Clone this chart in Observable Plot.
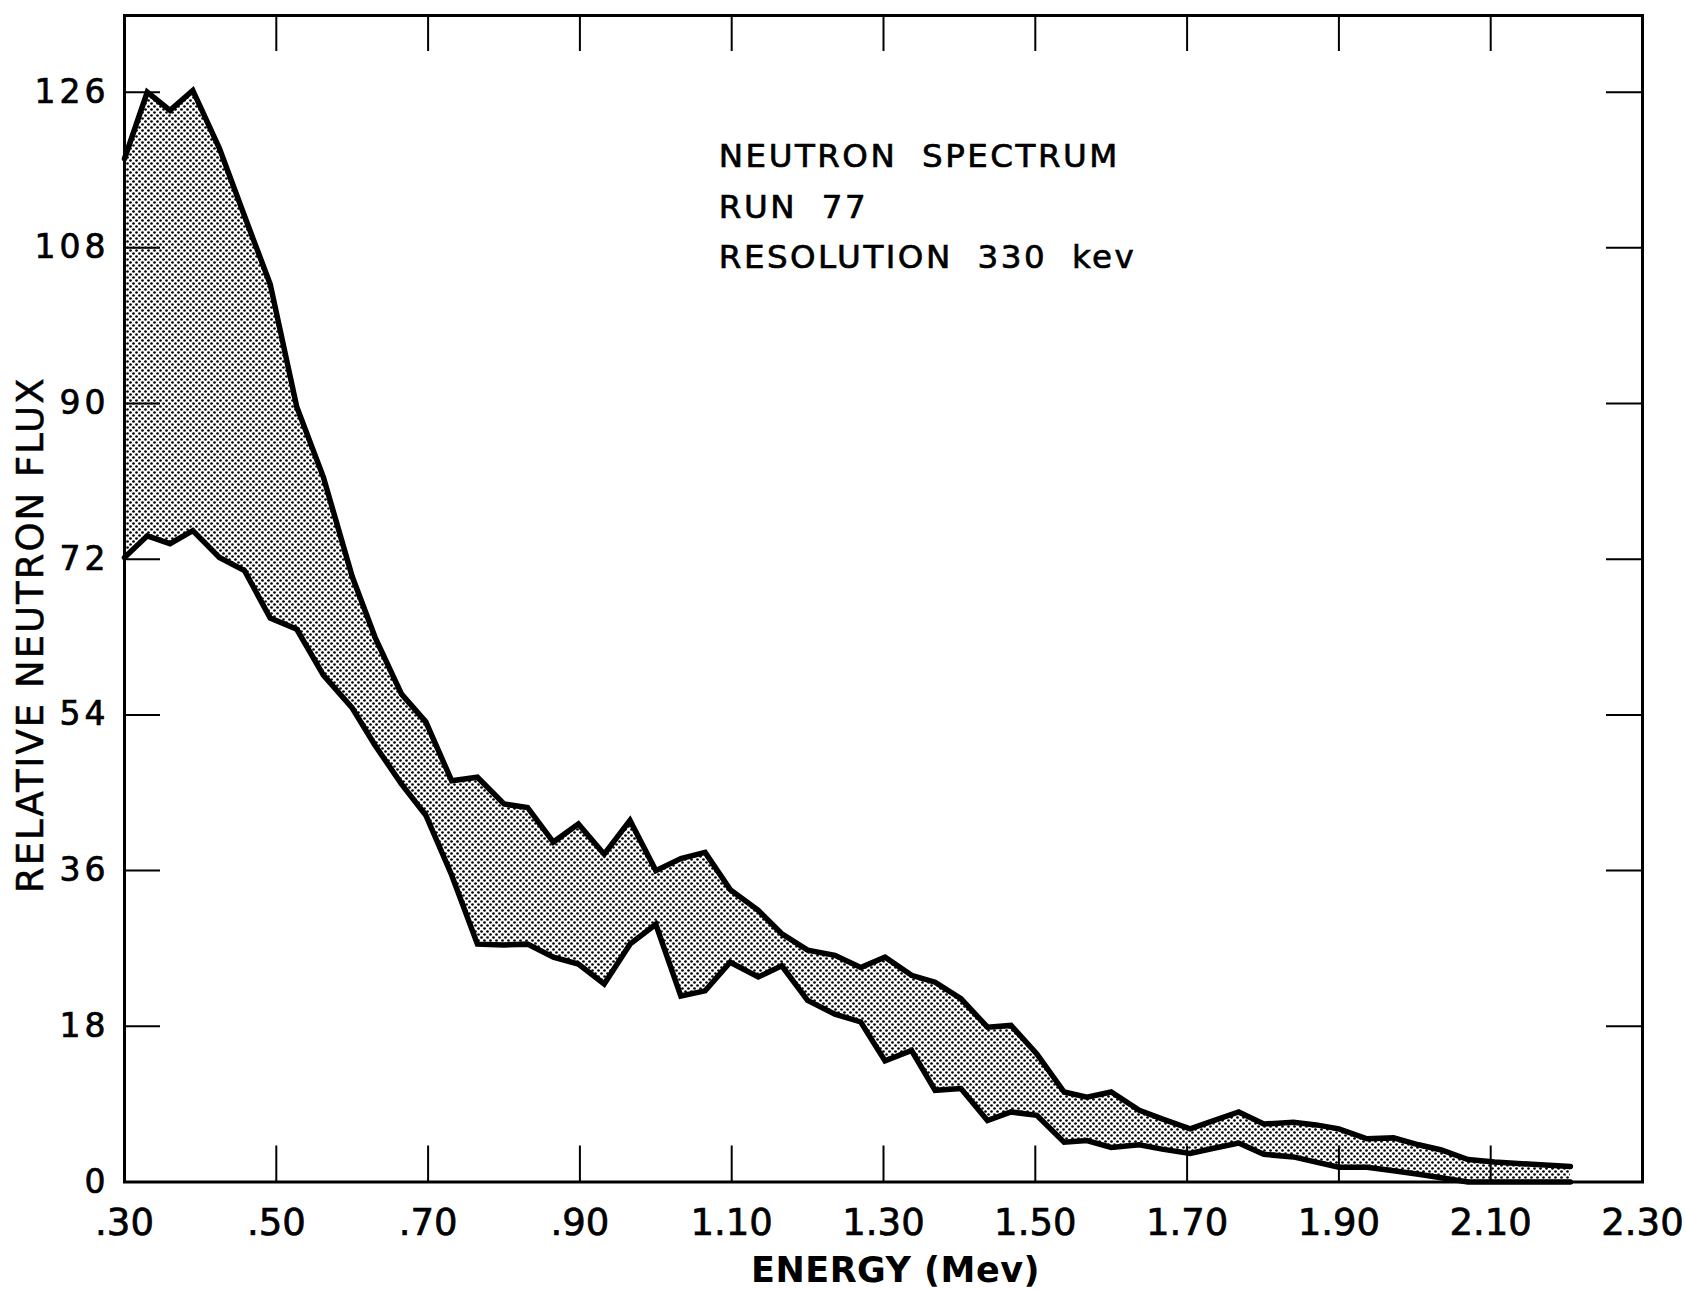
<!DOCTYPE html>
<html><head><meta charset="utf-8">
<script src="https://cdn.jsdelivr.net/npm/d3@7"></script>
<script src="https://cdn.jsdelivr.net/npm/@observablehq/plot@0.6"></script>
<style>
html,body{margin:0;padding:0;background:#fff;}
#chart svg{display:block;}
g[aria-label="y-axis tick label"] text{letter-spacing:4px;stroke:#000;stroke-width:0.7px;}
g[aria-label="x-axis tick label"] text{stroke:#000;stroke-width:0.7px;}
g.notes text{letter-spacing:2.5px;word-spacing:12px;stroke:#000;stroke-width:0.7px;}
g.ytitle text{letter-spacing:2px;stroke:#000;stroke-width:0.5px;}
g.xtitle text{letter-spacing:0.5px;}
</style></head><body><div id="chart"></div>
<script>
// Energy (MeV) of each vertex of the band
const energy = [0.300,0.330,0.360,0.390,0.425,0.458,0.492,0.527,0.562,0.600,
  0.630,0.665,0.697,0.731,0.765,0.800,0.831,0.865,0.898,0.932,
  0.966,1.000,1.033,1.065,1.098,1.135,1.166,1.200,1.236,1.270,
  1.302,1.337,1.368,1.402,1.437,1.468,1.502,1.538,1.568,1.600,
  1.637,1.667,1.704,1.735,1.768,1.801,1.840,1.870,1.900,1.937,
  1.972,2.005,2.035,2.070,2.105,2.205];
// Upper bound of relative neutron flux
const upper = [118.3,126.0,123.9,126.2,119.5,111.7,103.8,89.6,81.5,70.0,
  63.0,56.4,53.2,46.4,46.8,43.7,43.3,39.3,41.4,37.9,
  41.8,36.0,37.4,38.1,33.8,31.4,28.7,26.8,26.2,24.8,
  26.0,23.9,23.1,21.2,17.9,18.1,14.8,10.4,9.8,10.4,
  8.3,7.3,6.15,7.1,8.1,6.7,6.9,6.6,6.15,5.0,
  5.1,4.3,3.7,2.6,2.3,1.8];
// Lower bound of relative neutron flux
const lower = [72.2,74.7,73.8,75.3,72.2,70.7,65.2,63.9,58.6,54.8,
  50.5,46.0,42.4,35.5,27.5,27.4,27.5,26.0,25.2,22.9,
  27.5,29.8,21.5,22.1,25.4,23.7,25.0,21.0,19.4,18.5,
  14.0,15.2,10.6,10.8,7.1,8.1,7.7,4.6,4.8,4.0,
  4.3,3.8,3.3,3.9,4.5,3.2,2.9,2.3,1.7,1.7,
  1.3,0.9,0.5,0,0,0];

const xTicks = [0.3,0.5,0.7,0.9,1.1,1.3,1.5,1.7,1.9,2.1,2.3];
const xTickLabels = [".30",".50",".70",".90","1.10","1.30","1.50","1.70","1.90","2.10","2.30"];
const yTicks = [0,18,36,54,72,90,108,126];
const yTickLabels = ["0","18","36","54","72","90","108","126"];
const notes = ["NEUTRON SPECTRUM","RUN 77","RESOLUTION 330 kev"];
const xTitle = "ENERGY (Mev)";
const yTitle = "RELATIVE NEUTRON FLUX";

const rows = energy.map((e, i) => ({e, hi: upper[i], lo: lower[i]}));

const W = 1686, H = 1290, mL = 124, mR = 44, mT = 15, mB = 108.5;
const frameW = W - mL - mR, frameH = H - mT - mB, tickLen = 36;
const innerX = xTicks.slice(1, -1), innerY = yTicks.slice(1);
const font = "'DejaVu Sans', 'Liberation Sans', sans-serif";
const fmtX = d => xTickLabels[xTicks.findIndex(t => Math.abs(t - d) < 1e-9)];
const fmtY = d => yTickLabels[yTicks.findIndex(t => Math.abs(t - d) < 1e-9)];

const svg = Plot.plot({
  width: W, height: H,
  marginLeft: mL, marginRight: mR, marginTop: mT, marginBottom: mB,
  x: {domain: [0.3, 2.3]},
  y: {domain: [0, 134.86]},
  style: {fontFamily: font, background: "#fff", color: "#000"},
  marks: [
    Plot.areaY(rows, {x: "e", y1: "lo", y2: "hi", fill: "url(#stipple)"}),
    Plot.lineY(rows, {x: "e", y: "hi", stroke: "#000", strokeWidth: 5.5, strokeLinejoin: "miter", strokeMiterlimit: 4}),
    Plot.lineY(rows, {x: "e", y: "lo", stroke: "#000", strokeWidth: 5.5, strokeLinejoin: "miter", strokeMiterlimit: 4}),
    Plot.ruleX(innerX, {insetTop: frameH - tickLen, stroke: "#000", strokeWidth: 2}),
    Plot.ruleX(innerX, {insetBottom: frameH - tickLen, stroke: "#000", strokeWidth: 2}),
    Plot.ruleY(innerY, {insetRight: frameW - tickLen, stroke: "#000", strokeWidth: 2}),
    Plot.ruleY(innerY, {insetLeft: frameW - tickLen, stroke: "#000", strokeWidth: 2}),
    Plot.frame({stroke: "#000", strokeWidth: 3}),
    Plot.axisX(xTicks, {anchor: "bottom", tickSize: 0, tickPadding: 27, tickFormat: fmtX, fontSize: 37, label: null}),
    Plot.axisY(yTicks, {anchor: "left", tickSize: 0, tickPadding: 15, tickFormat: fmtY, fontSize: 33, label: null}),
    Plot.text([notes.join("\n")], {x: 1.083, y: 121.4, text: d => d, textAnchor: "start", lineAnchor: "top",
      lineHeight: 1.54, fontSize: 32.5, fill: "#000", className: "notes"}),
    Plot.text([xTitle], {frameAnchor: "bottom", text: d => d, dx: 12, dy: 89, lineAnchor: "middle",
      fontSize: 35, fontWeight: "bold", fill: "#000", className: "xtitle"}),
    Plot.text([yTitle], {frameAnchor: "left", text: d => d, rotate: -90, dx: -108, dy: 36, lineAnchor: "top",
      textAnchor: "middle", fontSize: 37, fill: "#000", className: "ytitle"})
  ]
});

const ns = "http://www.w3.org/2000/svg";
const defs = document.createElementNS(ns, "defs");
defs.innerHTML = `<pattern id="stipple" width="6" height="6" patternUnits="userSpaceOnUse">
  <rect width="6" height="6" fill="#fff"/>
  <circle cx="1.5" cy="1.5" r="1.35" fill="#000"/>
  <circle cx="4.5" cy="4.5" r="1.35" fill="#000"/>
</pattern>`;
svg.insertBefore(defs, svg.firstChild);
document.getElementById("chart").appendChild(svg);
</script>
</body></html>
